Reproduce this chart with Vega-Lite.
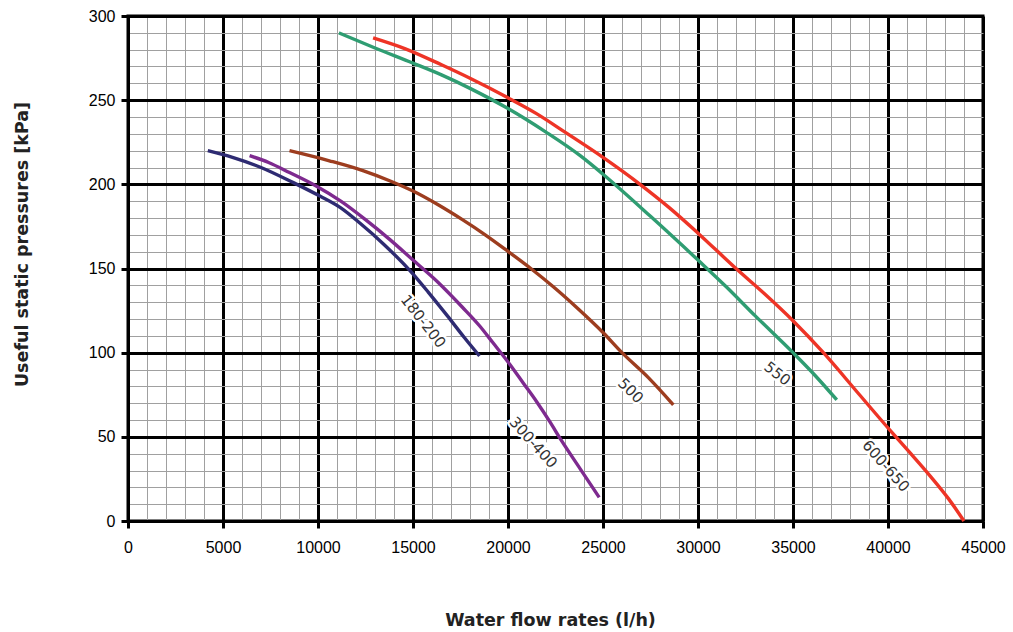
{
  "$schema": "https://vega.github.io/schema/vega-lite/v6.json",
  "width": 855,
  "height": 505,
  "autosize": "none",
  "padding": {"left": 128, "top": 16, "right": 30, "bottom": 111},
  "background": "white",
  "config": {
    "view": {"stroke": "black", "strokeWidth": 3},
    "axis": {
      "labelFont": "Liberation Sans",
      "labelFontSize": 16,
      "labelColor": "black",
      "labelOverlap": false,
      "labelFlush": false,
      "labelBound": false,
      "domainColor": "black",
      "domainWidth": 3,
      "tickColor": "black",
      "tickWidth": 3,
      "tickSize": 7,
      "grid": true,
      "titleFont": "DejaVu Sans",
      "titleFontWeight": "bold",
      "titleFontSize": 17.5,
      "titleColor": "#222222"
    }
  },
  "datasets": {
    "curves": [
      {"series": "180-200", "q": 4200, "p": 220},
      {"series": "180-200", "q": 5500, "p": 216},
      {"series": "180-200", "q": 7000, "p": 210},
      {"series": "180-200", "q": 8700, "p": 201},
      {"series": "180-200", "q": 10100, "p": 193},
      {"series": "180-200", "q": 11200, "p": 186},
      {"series": "180-200", "q": 12200, "p": 177},
      {"series": "180-200", "q": 13500, "p": 164},
      {"series": "180-200", "q": 14900, "p": 148},
      {"series": "180-200", "q": 15800, "p": 136},
      {"series": "180-200", "q": 16800, "p": 122},
      {"series": "180-200", "q": 17700, "p": 109},
      {"series": "180-200", "q": 18500, "p": 98},
      {"series": "300-400", "q": 6400, "p": 217},
      {"series": "300-400", "q": 7400, "p": 213},
      {"series": "300-400", "q": 8500, "p": 207},
      {"series": "300-400", "q": 9900, "p": 199},
      {"series": "300-400", "q": 11200, "p": 190},
      {"series": "300-400", "q": 12500, "p": 179},
      {"series": "300-400", "q": 13800, "p": 167},
      {"series": "300-400", "q": 15000, "p": 155},
      {"series": "300-400", "q": 16300, "p": 142},
      {"series": "300-400", "q": 17600, "p": 127},
      {"series": "300-400", "q": 18500, "p": 116},
      {"series": "300-400", "q": 19200, "p": 106},
      {"series": "300-400", "q": 20100, "p": 93},
      {"series": "300-400", "q": 20800, "p": 82},
      {"series": "300-400", "q": 21500, "p": 71},
      {"series": "300-400", "q": 22200, "p": 59},
      {"series": "300-400", "q": 22800, "p": 48},
      {"series": "300-400", "q": 23800, "p": 31},
      {"series": "300-400", "q": 24800, "p": 14},
      {"series": "500", "q": 8500, "p": 220},
      {"series": "500", "q": 10600, "p": 214},
      {"series": "500", "q": 12400, "p": 208},
      {"series": "500", "q": 13800, "p": 202},
      {"series": "500", "q": 15000, "p": 196},
      {"series": "500", "q": 16300, "p": 188},
      {"series": "500", "q": 17600, "p": 179},
      {"series": "500", "q": 18800, "p": 170},
      {"series": "500", "q": 19900, "p": 161},
      {"series": "500", "q": 21200, "p": 150},
      {"series": "500", "q": 22400, "p": 139},
      {"series": "500", "q": 23600, "p": 127},
      {"series": "500", "q": 25000, "p": 112},
      {"series": "500", "q": 26000, "p": 100},
      {"series": "500", "q": 27400, "p": 85},
      {"series": "500", "q": 28700, "p": 69},
      {"series": "550", "q": 11100, "p": 290},
      {"series": "550", "q": 13000, "p": 281},
      {"series": "550", "q": 15000, "p": 272},
      {"series": "550", "q": 16500, "p": 265},
      {"series": "550", "q": 18000, "p": 257},
      {"series": "550", "q": 20000, "p": 245},
      {"series": "550", "q": 22000, "p": 231},
      {"series": "550", "q": 23800, "p": 217},
      {"series": "550", "q": 25000, "p": 206},
      {"series": "550", "q": 27500, "p": 181},
      {"series": "550", "q": 30000, "p": 155},
      {"series": "550", "q": 31500, "p": 139},
      {"series": "550", "q": 33000, "p": 122},
      {"series": "550", "q": 35000, "p": 100},
      {"series": "550", "q": 36200, "p": 86},
      {"series": "550", "q": 37300, "p": 72},
      {"series": "600-650", "q": 12900, "p": 287},
      {"series": "600-650", "q": 14600, "p": 280.5},
      {"series": "600-650", "q": 16500, "p": 271},
      {"series": "600-650", "q": 18000, "p": 263},
      {"series": "600-650", "q": 19900, "p": 252},
      {"series": "600-650", "q": 21500, "p": 242},
      {"series": "600-650", "q": 23000, "p": 231},
      {"series": "600-650", "q": 25000, "p": 216},
      {"series": "600-650", "q": 26950, "p": 200},
      {"series": "600-650", "q": 28500, "p": 186},
      {"series": "600-650", "q": 30000, "p": 171},
      {"series": "600-650", "q": 32000, "p": 150},
      {"series": "600-650", "q": 33500, "p": 135},
      {"series": "600-650", "q": 35000, "p": 119},
      {"series": "600-650", "q": 36600, "p": 100},
      {"series": "600-650", "q": 38500, "p": 75},
      {"series": "600-650", "q": 40100, "p": 54},
      {"series": "600-650", "q": 41200, "p": 40},
      {"series": "600-650", "q": 42200, "p": 27},
      {"series": "600-650", "q": 43200, "p": 13},
      {"series": "600-650", "q": 44000, "p": 0}
    ],
    "labels": [
      {"name": "180-200", "q": 15540, "p": 118.6},
      {"name": "300-400", "q": 21330, "p": 46.6},
      {"name": "500", "q": 26455, "p": 77.4},
      {"name": "550", "q": 34175, "p": 87.5},
      {"name": "600-650", "q": 39890, "p": 32.7}
    ]
  },
  "encoding": {
    "x": {
      "field": "q",
      "type": "quantitative",
      "scale": {"domain": [0, 45000], "nice": false, "zero": false},
      "axis": {
        "values": [0,1000,2000,3000,4000,5000,6000,7000,8000,9000,10000,11000,12000,13000,14000,15000,16000,17000,18000,19000,20000,21000,22000,23000,24000,25000,26000,27000,28000,29000,30000,31000,32000,33000,34000,35000,36000,37000,38000,39000,40000,41000,42000,43000,44000,45000],
        "format": "d",
        "labelExpr": "datum.value % 5000 === 0 ? datum.label : ''",
        "labelPadding": 11,
        "gridColor": {"condition": {"test": "datum.value % 5000 === 0", "value": "black"}, "value": "#a0a0a0"},
        "gridWidth": {"condition": {"test": "datum.value % 5000 === 0", "value": 3}, "value": 1},
        "tickOpacity": {"condition": {"test": "datum.value % 5000 === 0", "value": 1}, "value": 0},
        "title": "Water flow rates (l/h)",
        "titleX": 422,
        "titleY": 99,
        "titleBaseline": "middle"
      }
    },
    "y": {
      "field": "p",
      "type": "quantitative",
      "scale": {"domain": [0, 300], "nice": false},
      "axis": {
        "values": [0,10,20,30,40,50,60,70,80,90,100,110,120,130,140,150,160,170,180,190,200,210,220,230,240,250,260,270,280,290,300],
        "format": "d",
        "labelExpr": "datum.value % 50 === 0 ? datum.label : ''",
        "labelPadding": 6,
        "gridColor": {"condition": {"test": "datum.value % 50 === 0", "value": "black"}, "value": "#a0a0a0"},
        "gridWidth": {"condition": {"test": "datum.value % 50 === 0", "value": 3}, "value": 1},
        "tickOpacity": {"condition": {"test": "datum.value % 50 === 0", "value": 1}, "value": 0},
        "title": "Useful static pressures [kPa]",
        "titleX": -106,
        "titleY": 228,
        "titleBaseline": "middle",
        "titleAlign": "center"
      }
    }
  },
  "layer": [
    {
      "data": {"name": "curves"},
      "mark": {"type": "line", "strokeWidth": 3.4, "interpolate": "monotone"},
      "encoding": {
        "color": {
          "field": "series",
          "type": "nominal",
          "scale": {
            "domain": ["180-200", "300-400", "500", "550", "600-650"],
            "range": ["#2e2b72", "#7e2a8f", "#9d3d1f", "#2f9d72", "#ee3426"]
          },
          "legend": null
        }
      }
    },
    {
      "data": {"name": "labels"},
      "transform": [{"filter": "datum.name === '180-200'"}],
      "layer": [
        {"mark": {"type": "text", "angle": 52, "font": "DejaVu Sans", "fontSize": 15, "stroke": "white", "strokeWidth": 5, "fill": "white", "align": "center", "baseline": "middle"}, "encoding": {"text": {"field": "name"}}},
        {"mark": {"type": "text", "angle": 52, "font": "DejaVu Sans", "fontSize": 15, "color": "#333333", "align": "center", "baseline": "middle"}, "encoding": {"text": {"field": "name"}}}
      ]
    },
    {
      "data": {"name": "labels"},
      "transform": [{"filter": "datum.name === '300-400'"}],
      "layer": [
        {"mark": {"type": "text", "angle": 48, "font": "DejaVu Sans", "fontSize": 15, "stroke": "white", "strokeWidth": 5, "fill": "white", "align": "center", "baseline": "middle"}, "encoding": {"text": {"field": "name"}}},
        {"mark": {"type": "text", "angle": 48, "font": "DejaVu Sans", "fontSize": 15, "color": "#333333", "align": "center", "baseline": "middle"}, "encoding": {"text": {"field": "name"}}}
      ]
    },
    {
      "data": {"name": "labels"},
      "transform": [{"filter": "datum.name === '500'"}],
      "layer": [
        {"mark": {"type": "text", "angle": 45, "font": "DejaVu Sans", "fontSize": 15, "stroke": "white", "strokeWidth": 5, "fill": "white", "align": "center", "baseline": "middle"}, "encoding": {"text": {"field": "name"}}},
        {"mark": {"type": "text", "angle": 45, "font": "DejaVu Sans", "fontSize": 15, "color": "#333333", "align": "center", "baseline": "middle"}, "encoding": {"text": {"field": "name"}}}
      ]
    },
    {
      "data": {"name": "labels"},
      "transform": [{"filter": "datum.name === '550'"}],
      "layer": [
        {"mark": {"type": "text", "angle": 38, "font": "DejaVu Sans", "fontSize": 15, "stroke": "white", "strokeWidth": 5, "fill": "white", "align": "center", "baseline": "middle"}, "encoding": {"text": {"field": "name"}}},
        {"mark": {"type": "text", "angle": 38, "font": "DejaVu Sans", "fontSize": 15, "color": "#333333", "align": "center", "baseline": "middle"}, "encoding": {"text": {"field": "name"}}}
      ]
    },
    {
      "data": {"name": "labels"},
      "transform": [{"filter": "datum.name === '600-650'"}],
      "layer": [
        {"mark": {"type": "text", "angle": 49, "font": "DejaVu Sans", "fontSize": 15, "stroke": "white", "strokeWidth": 5, "fill": "white", "align": "center", "baseline": "middle"}, "encoding": {"text": {"field": "name"}}},
        {"mark": {"type": "text", "angle": 49, "font": "DejaVu Sans", "fontSize": 15, "color": "#333333", "align": "center", "baseline": "middle"}, "encoding": {"text": {"field": "name"}}}
      ]
    }
  ]
}
